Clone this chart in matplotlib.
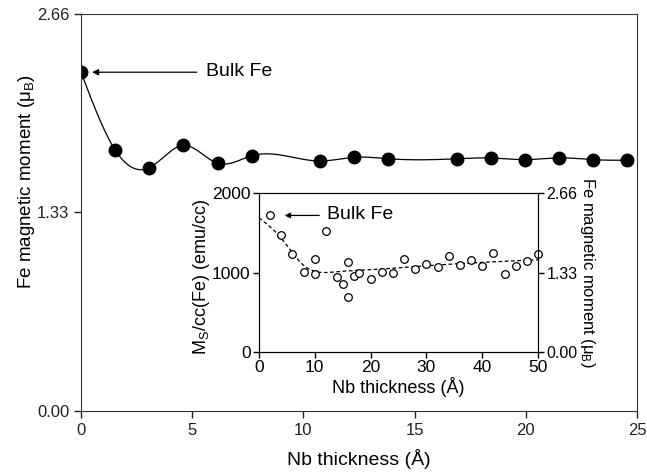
import numpy as np
import matplotlib
matplotlib.use("Agg")
import matplotlib.pyplot as plt

plt.rcParams['font.family'] = ['Liberation Sans', 'DejaVu Sans']
plt.rcParams['mathtext.fontset'] = 'custom'
plt.rcParams['mathtext.rm'] = 'Liberation Sans'
plt.rcParams['mathtext.it'] = 'Liberation Sans'

# ---- main data: Fe magnetic moment vs Nb thickness ----
main_x = [0.0, 1.53, 3.07, 4.6, 6.14, 7.68, 10.76, 12.29, 13.82, 16.9, 18.42, 19.96, 21.5, 23.03, 24.56]
main_y = [2.27, 1.75, 1.63, 1.78, 1.66, 1.71, 1.675, 1.70, 1.69, 1.69, 1.695, 1.684, 1.696, 1.684, 1.68]

# ---- inset data: Ms/cc(Fe) vs Nb thickness ----
ins_x = [2, 4, 6, 8, 10, 10, 12, 14, 15, 16, 16, 17, 18, 20, 22, 24, 26, 28, 30, 32,
         34, 36, 38, 40, 42, 44, 46, 48, 50]
ins_y = [1718, 1470, 1234, 1002, 1175, 977, 1524, 947, 850, 1128, 690, 960, 994, 922,
         1010, 998, 1166, 1044, 1111, 1074, 1208, 1090, 1162, 1082, 1242, 985, 1078,
         1145, 1230]
fit_x = [0, 4, 8, 10, 14, 20, 28, 38, 50]
fit_y = [1690, 1430, 1090, 1015, 1010, 1035, 1075, 1120, 1160]

main_xticks = [0, 5, 10, 15, 20, 25]
main_yticks = [0.00, 1.33, 2.66]
main_yticklabels = ['0.00', '1.33', '2.66']
ins_xticks = [0, 10, 20, 30, 40, 50]
ins_yticks = [0, 1000, 2000]
ins_rticks = [0.00, 1.33, 2.66]
ins_rticklabels = ['0.00', '1.33', '2.66']


def natural_spline(x, y, xs):
    x = np.asarray(x, float); y = np.asarray(y, float)
    n = len(x)
    h = np.diff(x)
    A = np.zeros((n, n)); b = np.zeros(n)
    A[0, 0] = 1; A[-1, -1] = 1
    for i in range(1, n - 1):
        A[i, i - 1] = h[i - 1]
        A[i, i] = 2 * (h[i - 1] + h[i])
        A[i, i + 1] = h[i]
        b[i] = 3 * ((y[i + 1] - y[i]) / h[i] - (y[i] - y[i - 1]) / h[i - 1])
    c = np.linalg.solve(A, b)
    out = np.empty_like(xs)
    for k, xv in enumerate(xs):
        i = np.clip(np.searchsorted(x, xv) - 1, 0, n - 2)
        dx = xv - x[i]
        bi = (y[i + 1] - y[i]) / h[i] - h[i] * (2 * c[i] + c[i + 1]) / 3
        di = (c[i + 1] - c[i]) / (3 * h[i])
        out[k] = y[i] + bi * dx + c[i] * dx ** 2 + di * dx ** 3
    return out


spine_col = '#333333'
fig = plt.figure(figsize=(6.47, 4.76), dpi=100)
ax = fig.add_axes([0.1252, 0.1366, 0.8594, 0.834])

xs = np.linspace(main_x[0], main_x[-1], 600)
ax.plot(xs, natural_spline(main_x, main_y, xs), color='black', lw=0.9)
ax.plot(main_x, main_y, 'o', color='black', ms=9)
ax.set_xlim(0, 25)
ax.set_ylim(0, 2.66)
ax.set_xticks(main_xticks)
ax.set_yticks(main_yticks)
ax.set_yticklabels(main_yticklabels)
ax.tick_params(direction='out', length=5, width=1, labelsize=12, colors='#222222')
ax.set_xlabel('Nb thickness (Å)', fontsize=14, labelpad=8)
ax.set_ylabel(r'Fe magnetic moment ($\mu_{\rm B}$)', fontsize=13.5)
ax.yaxis.set_label_coords(-0.079, 0.577)
for s in ax.spines.values():
    s.set_color(spine_col)
ax.annotate('', xy=(0.5, 2.27), xytext=(5.2, 2.27),
            arrowprops=dict(arrowstyle='-|>', color='black', lw=0.9,
                            mutation_scale=9, shrinkA=0, shrinkB=0))
ax.text(5.6, 2.275, 'Bulk Fe', fontsize=14, va='center', ha='left')

# ---- inset ----
ins = fig.add_axes([0.4003, 0.2605, 0.4312, 0.334])
fxs = np.linspace(0, 50, 400)
ins.plot(fxs, natural_spline(fit_x, fit_y, fxs), color='black', lw=0.9, ls=(0, (3, 2)))
ins.plot(ins_x, ins_y, 'o', mfc='white', mec='black', ms=5.5, mew=0.9, clip_on=False, zorder=5)
ins.set_xlim(0, 50)
ins.set_ylim(0, 2000)
ins.set_xticks(ins_xticks)
ins.set_yticks(ins_yticks)
ins.tick_params(direction='out', length=4, width=1, labelsize=12.5, pad=2)
ins.set_xlabel('Nb thickness (Å)', fontsize=13, labelpad=1)
ins.set_ylabel(r'M$_{\rm S}$/cc(Fe) (emu/cc)', fontsize=13)
ins.yaxis.set_label_coords(-0.168, 0.47)
ins.annotate('', xy=(4.6, 1718), xytext=(10.8, 1718),
             arrowprops=dict(arrowstyle='-|>', color='black', lw=0.9,
                             mutation_scale=8, shrinkA=0, shrinkB=0))
ins.text(12.2, 1735, 'Bulk Fe', fontsize=14, va='center', ha='left')

twin = ins.twinx()
twin.set_ylim(0, 2.66)
twin.set_yticks(ins_rticks)
twin.set_yticklabels(ins_rticklabels)
twin.tick_params(direction='out', length=4, width=1, labelsize=11.5, pad=2)
twin.set_ylabel(r'Fe magnetic moment ($\mu_{\rm B}$)', fontsize=12, rotation=270,
                labelpad=14)

fig.savefig('out.png', dpi=100)
